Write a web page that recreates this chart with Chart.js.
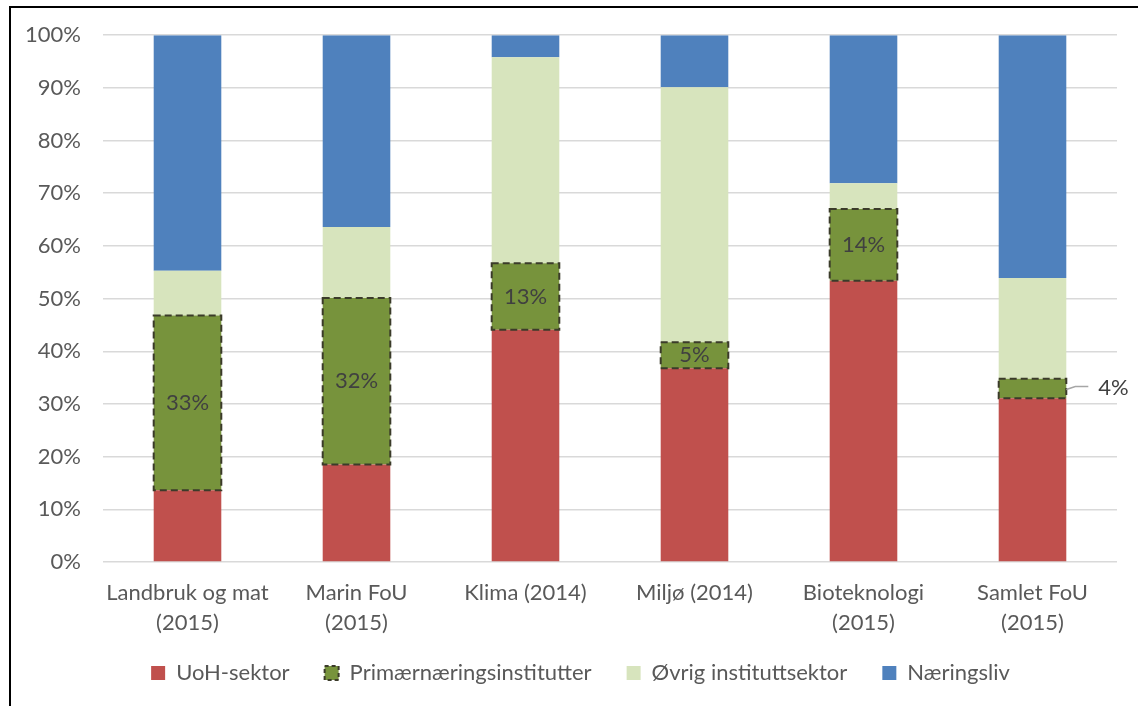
<!DOCTYPE html>
<html>
<head>
<meta charset="utf-8">
<script src="https://cdn.jsdelivr.net/npm/chart.js@4"></script>
<style>
  html, body { margin: 0; padding: 0; background: #fff; overflow: hidden; }
  #wrap { position: relative; width: 1138px; height: 706px; }
  #frame { position: absolute; left: 9px; top: 6px; width: 1200px; height: 800px;
           border-top: 2px solid #000; border-left: 2px solid #000; pointer-events: none; }
</style>
</head>
<body>
<div id="wrap">
  <canvas id="fouChart" width="1138" height="706"></canvas>
  <div id="frame"></div>
</div>
<script>
// kategorier og andeler (prosent)
const kategorier = [
    ['Landbruk og mat', '(2015)'],
    ['Marin FoU', '(2015)'],
    'Klima (2014)',
    'Miljø (2014)',
    ['Bioteknologi', '(2015)'],
    ['Samlet FoU', '(2015)']
];
const uohSektor = [13.6, 18.5, 44.1, 36.8, 53.4, 31.1];
const primaer = [33.2, 31.6, 12.6, 4.9, 13.6, 3.7];
const ovrigInstitutt = [8.5, 13.5, 39.1, 48.4, 4.9, 19.1];
const naeringsliv = [44.7, 36.4, 4.2, 9.9, 28.1, 46.1];

const tekstFarge = '#595959';
const fontFamilie = 'Lato, "Open Sans", sans-serif';
const kantFarge = '#3b3b2a';
const strek = [7, 4];

// stiplet kant og etiketter på Primærnæringsinstitutter
const etikettPlugin = {
    id: 'etiketter',
    afterLayout(chart) {
        // flytt forklaringen litt opp og til høyre
        const leg = chart.legend;
        leg.top -= 12; leg.bottom -= 12;
        leg.left += 22; leg.right += 22;
    },
    afterDatasetsDraw(chart) {
        const ctx = chart.ctx;
        const meta = chart.getDatasetMeta(1);
        ctx.save();
        meta.data.forEach(bar => {
            const v = bar.x - bar.width / 2;
            ctx.strokeStyle = kantFarge;
            ctx.lineWidth = 2;
            ctx.setLineDash(strek);
            ctx.strokeRect(v, bar.y, bar.width, bar.base - bar.y);
        });
        ctx.setLineDash([]);
        ctx.font = '22px ' + fontFamilie;
        ctx.fillStyle = '#404040';
        ctx.textBaseline = 'middle';
        meta.data.forEach((bar, i) => {
            const tekst = Math.round(primaer[i]) + '%';
            const midtY = (bar.y + bar.base) / 2;
            if (i === primaer.length - 1) {
                const hoyre = bar.x + bar.width / 2;
                ctx.strokeStyle = '#a6a6a6';
                ctx.lineWidth = 1.5;
                ctx.beginPath();
                ctx.moveTo(hoyre, midtY + 1);
                ctx.lineTo(hoyre + 9, midtY - 2);
                ctx.lineTo(hoyre + 22, midtY - 2);
                ctx.stroke();
                ctx.textAlign = 'left';
                ctx.fillText(tekst, hoyre + 32, midtY - 1);
            } else {
                ctx.textAlign = 'center';
                ctx.fillText(tekst, bar.x, midtY);
            }
        });
        ctx.restore();
    }
};

const ctxFou = document.getElementById('fouChart').getContext('2d');
const fouChart = new Chart(ctxFou, {
    type: 'bar',
    data: {
        labels: kategorier,
        datasets: [{
            label: 'UoH-sektor',
            data: uohSektor,
            backgroundColor: '#c0504d',
            borderWidth: 0
        }, {
            label: 'Primærnæringsinstitutter',
            data: primaer,
            backgroundColor: '#77933c',
            borderWidth: 0
        }, {
            label: 'Øvrig instituttsektor',
            data: ovrigInstitutt,
            backgroundColor: '#d7e4bd',
            borderWidth: 0
        }, {
            label: 'Næringsliv',
            data: naeringsliv,
            backgroundColor: '#4f81bd',
            borderWidth: 0
        }]
    },
    options: {
        responsive: false,
        animation: false,
        layout: { padding: { top: 30, right: 21, left: 0, bottom: 0 } },
        datasets: { bar: { categoryPercentage: 1, barPercentage: 0.4 } },
        scales: {
            x: {
                stacked: true,
                grid: { display: false },
                border: { display: false },
                ticks: { color: tekstFarge, font: { size: 22, family: fontFamilie, lineHeight: 1.36 }, padding: 8 },
                afterFit(scale) { scale.height = 77; }
            },
            y: {
                stacked: true,
                min: 0,
                max: 100,
                ticks: {
                    stepSize: 10,
                    color: tekstFarge,
                    font: { size: 22, family: fontFamilie },
                    padding: 22,
                    callback: v => v + '%'
                },
                grid: { color: '#d9d9d9', lineWidth: 1.5, drawTicks: false },
                border: { display: false },
                afterFit(scale) { scale.width = 103; }
            }
        },
        plugins: {
            legend: {
                position: 'bottom',
                labels: {
                    color: tekstFarge,
                    font: { size: 22, family: fontFamilie },
                    boxWidth: 14,
                    boxHeight: 14,
                    padding: 35,
                    generateLabels(chart) {
                        const items = Chart.defaults.plugins.legend.labels.generateLabels(chart);
                        items.forEach(it => {
                            if (it.datasetIndex === 1) {
                                it.strokeStyle = kantFarge;
                                it.lineWidth = 2;
                                it.lineDash = [4, 3];
                            }
                        });
                        return items;
                    }
                }
            },
            tooltip: { enabled: false }
        }
    },
    plugins: [etikettPlugin]
});
</script>
</body>
</html>
